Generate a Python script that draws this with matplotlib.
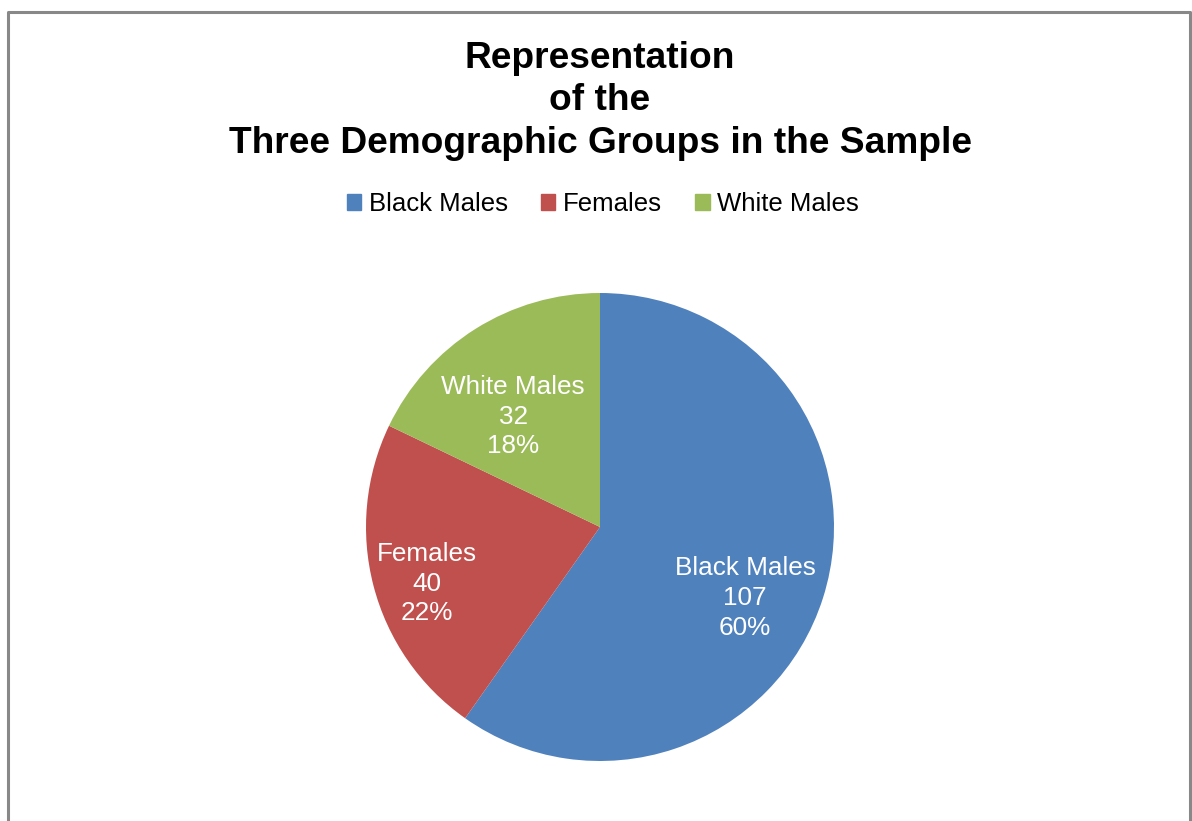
import numpy as np
import matplotlib
matplotlib.use("Agg")
import matplotlib.pyplot as plt
from matplotlib.lines import Line2D
from matplotlib.patches import Rectangle

categories = ["Black Males", "Females", "White Males"]
counts = [107, 40, 32]
colors = ["#4F81BD", "#C0504D", "#9BBB59"]
title = "Representation\nof the\nThree Demographic Groups in the Sample"

W, H = 1192, 821
fig = plt.figure(figsize=(W / 100, H / 100), dpi=100)
plt.rcParams['font.family'] = ['Liberation Sans', 'DejaVu Sans']

# border (open at the bottom)
bc = "#888888"
fig.add_artist(Line2D([8 / W, 8 / W, 1190 / W, 1190 / W],
                      [0, 1 - 12 / H, 1 - 12 / H, 0],
                      transform=fig.transFigure, color=bc, lw=2.2))

fig.text(600 / W, 1 - 101 / H, title, ha="center", va="center",
         fontsize=26.7, fontweight="bold", linespacing=1.28)

cx, cy, r = 600, 527, 234
ax = fig.add_axes([(cx - r) / W, (H - cy - r) / H, 2 * r / W, 2 * r / H])
wedges, _ = ax.pie(counts, colors=colors, startangle=90, counterclock=False,
                   wedgeprops=dict(linewidth=0))
ax.set_xlim(-1, 1)
ax.set_ylim(-1, 1)
ax.set_aspect("equal")

total = sum(counts)
dist = [0.69, 0.78, 0.60]
angoff = [-8.5, 3.5, 6]
for w, name, c, d, ao in zip(wedges, categories, counts, dist, angoff):
    ang = np.deg2rad((w.theta1 + w.theta2) / 2 + ao)
    pct = round(100 * c / total)
    ax.text(d * np.cos(ang), d * np.sin(ang), f"{name}\n{c}\n{pct}%",
            ha="center", va="center", color="white", fontsize=18.8,
            linespacing=1.3)

# legend
handles = [Rectangle((0, 0), 1, 1, color=col) for col in colors]
fig.legend(handles, categories, loc="center", bbox_to_anchor=(603 / W, 1 - 204 / H),
           ncol=3, frameon=False, fontsize=18.5, handlelength=0.55, handleheight=0.55,
           handletextpad=0.3, columnspacing=1.3)

fig.savefig("out.png", dpi=100)
